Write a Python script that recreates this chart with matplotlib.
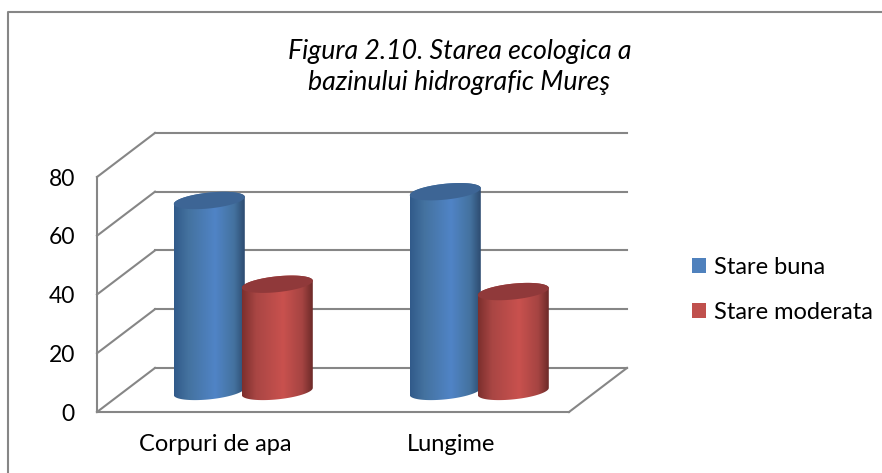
import numpy as np
import matplotlib
matplotlib.use('Agg')
import matplotlib.pyplot as plt
from matplotlib.colors import LinearSegmentedColormap
from matplotlib.lines import Line2D
from matplotlib.patches import Patch, Polygon

categories = ['Corpuri de apa', 'Lungime']
stare_buna = [65, 68]
stare_moderata = [36.5, 34]
series_names = ['Stare buna', 'Stare moderata']
yticks = [0, 20, 40, 60, 80]
title = 'Figura 2.10. Starea ecologica a\nbazinului hidrografic Mureş'

W, H = 882, 473
GRID = '#868686'
plt.rcParams['font.family'] = ['Lato', 'DejaVu Sans']

fig = plt.figure(figsize=(W / 100, H / 100), dpi=100)
ax = fig.add_axes([97 / W, 1 - 412 / H, 472 / W, 235 / H])
ax.set_xlim(0, 2)
ax.set_ylim(0, 80)

# size of the fake 3d depth, in data units
depth_x = 58 / 236
depth_y = 15
half_w = 35.5 / 236
off = 34 / 236
base = 7.0
ell_b = 2.7
ell_s = 1.2


def ellipse(cx, cy):
    t = np.linspace(0, 2 * np.pi, 100)
    return np.column_stack([cx + half_w * np.cos(t), cy + ell_b * np.sin(t) + ell_s * np.cos(t)])


def cylinder(cx, val, cmap, top_color, z):
    # body is bottom half of base ellipse + top half of the top ellipse
    t = np.linspace(np.pi, 2 * np.pi, 50)
    low = np.column_stack([cx + half_w * np.cos(t), base + ell_b * np.sin(t) + ell_s * np.cos(t)])
    t = np.linspace(0, np.pi, 50)
    up = np.column_stack([cx + half_w * np.cos(t), base + val + ell_b * np.sin(t) + ell_s * np.cos(t)])
    body = Polygon(np.vstack([low, up]), closed=True, transform=ax.transData, fc='none', ec='none')
    ax.add_patch(body)
    grad = np.linspace(0, 1, 256).reshape(1, -1)
    im = ax.imshow(grad, cmap=cmap, aspect='auto', zorder=z, interpolation='bilinear',
                   extent=[cx - half_w, cx + half_w, base - 5, base + val + 5])
    im.set_clip_path(body)
    ax.add_patch(Polygon(ellipse(cx, base + val), closed=True, fc=top_color, ec='none', zorder=z + 0.5))


blue = LinearSegmentedColormap.from_list('b', [(0, '#315a8a'), (0.2, '#44729f'), (0.58, '#5084c6'),
                                               (0.85, '#44729f'), (1, '#2d4b70')])
red = LinearSegmentedColormap.from_list('r', [(0, '#7c2f2d'), (0.2, '#a94644'), (0.58, '#c9514e'),
                                              (0.85, '#a54442'), (1, '#6c2a28')])

# back wall, side wall and floor
for v in yticks:
    ax.plot([depth_x, 2 + depth_x], [v + depth_y, v + depth_y], color=GRID, lw=1.5, clip_on=False, zorder=1)
    ax.plot([0, depth_x], [v, v + depth_y], color=GRID, lw=1.5, clip_on=False, zorder=1)
ax.plot([2, 2 + depth_x], [0, depth_y], color=GRID, lw=1.5, clip_on=False, zorder=1)

for i in range(len(categories)):
    cx = i + 0.5 + depth_x / 2 - 0.003
    cylinder(cx - off, stare_buna[i], blue, '#3d6595', 3)
    cylinder(cx + off, stare_moderata[i], red, '#90393a', 4)

ax.set_xlim(0, 2)
ax.set_ylim(0, 80)
ax.set_xticks([0.5, 1.5])
ax.set_xticklabels(categories, fontsize=17, color='black')
ax.set_yticks(yticks)
ax.tick_params(axis='x', length=0, pad=16)
ax.tick_params(axis='y', length=0, pad=16, labelsize=16.5)
for s in ['top', 'right']:
    ax.spines[s].set_visible(False)
for s in ['left', 'bottom']:
    ax.spines[s].set_color(GRID)
    ax.spines[s].set_linewidth(1.5)
ax.patch.set_alpha(0)

fig.text(459.5 / W, 1 - 67 / H, title, ha='center', va='center', fontsize=19.3, style='italic', linespacing=1.33)

handles = [Patch(fc='#4f81bd', ec='none'), Patch(fc='#c0504d', ec='none')]
fig.legend(handles, series_names, loc='center left', bbox_to_anchor=(671 / W, 1 - 290 / H), frameon=False,
           fontsize=17, handlelength=0.6, handleheight=0.6, handletextpad=0.3, labelspacing=1.03)

# chart area border
fig.add_artist(Line2D([8 / W, 8 / W, 1], [0, 1 - 12 / H, 1 - 12 / H], color=GRID, lw=1.5))

fig.savefig('out.png', dpi=100)
